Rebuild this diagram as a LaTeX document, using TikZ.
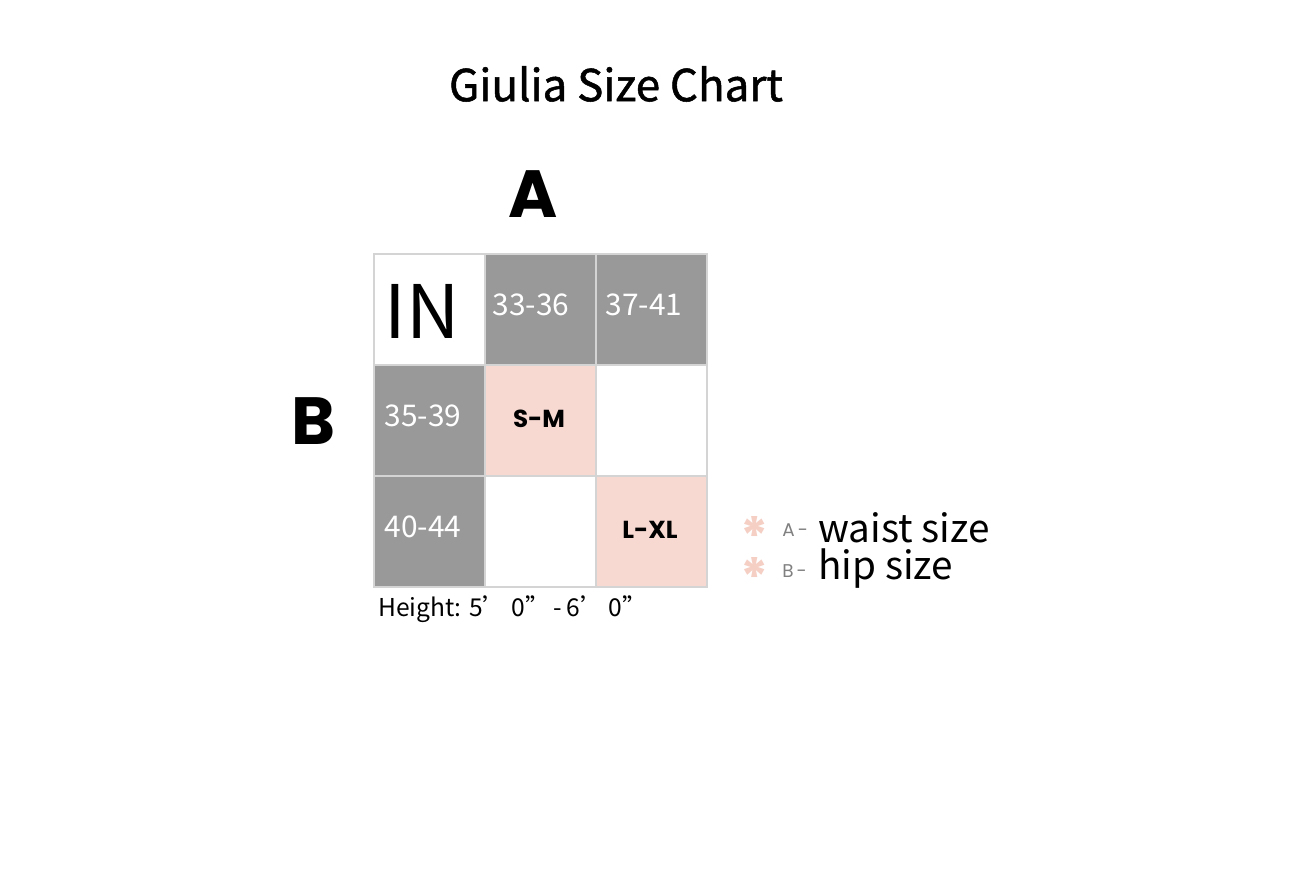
\documentclass[tikz,border=0pt]{standalone}
\usepackage{fontspec}
\setmainfont{Noto Sans CJK SC}
\newfontfamily\titlefont{Noto Sans CJK SC}[FakeBold=1.2]
\newfontfamily\geo{Poppins}
\definecolor{cellgray}{HTML}{999999}
\definecolor{cellpink}{HTML}{F8D9D2}
\definecolor{gridline}{HTML}{D4D4D4}
\definecolor{starpink}{HTML}{F5CFC4}
\tikzset{
  cell/.style={draw=gridline,line width=1pt,minimum size=111*0.02cm,inner sep=0pt,anchor=north west},
  numcell/.style={cell,fill=cellgray},
  numtext/.style={text=white,font=\fontsize{17}{20}\selectfont},
  sizecell/.style={cell,fill=cellpink},
  sizetext/.style={font=\geo\bfseries\fontsize{14}{17}\selectfont},
  legend/.style={anchor=west,inner sep=0pt,font=\fontsize{22}{24}\selectfont},
  tag/.style={anchor=west,inner sep=0pt,text=gray,font=\geo\fontsize{10.5}{12}\selectfont},
}
\begin{document}
\begin{tikzpicture}[x=0.02cm,y=-0.02cm]
  \useasboundingbox[fill=white] (0,0) rectangle (1290,884);
  \node (title) at (616,84) {\titlefont\fontsize{25}{30}\selectfont Giulia Size Chart};
  \node (labA) at (533,194) {\geo\bfseries\fontsize{38}{40}\selectfont A};
  \node (labB) at (313,421) {\geo\bfseries\fontsize{38}{40}\selectfont B};
  % grid
  \node[cell] (in) at (373,253) {};
  \node at (422,311) {\fontsize{42}{48}\selectfont IN};
  \node[numcell] (a1) at (484,253) {};
  \node[numcell] (a2) at (595,253) {};
  \node[numcell] (b1) at (373,364) {};
  \node[sizecell] (sm) at (484,364) {};
  \node[cell] (e1) at (595,364) {};
  \node[numcell] (b2) at (373,475) {};
  \node[cell] (e2) at (484,475) {};
  \node[sizecell] (lxl) at (595,475) {};
  \node[sizetext] at (539,419) {S-M};
  \node[sizetext] at (650,530) {L-XL};
  \node[numtext] at (531,305) {33-36};
  \node[numtext] at (644,305) {37-41};
  \node[numtext] at (423,416) {35-39};
  \node[numtext] at (423,527) {40-44};
  \node[anchor=west,font=\fontsize{14}{16}\selectfont] (height) at (372,609) {Height: 5’\,0”\,-\,6’\,0”};
  % legend
  \foreach \y/\t/\w in {528/A/waist size,569/B/hip size}{
    \node[inner sep=0pt,text=starpink,font=\geo\bfseries\fontsize{30}{30}\selectfont] at (755,\y+8) {*};
    \node[tag] at (782,\y+2) {\t\,-};
    \node[legend] at (818,\y) {\w};
  }
\end{tikzpicture}
\end{document}
